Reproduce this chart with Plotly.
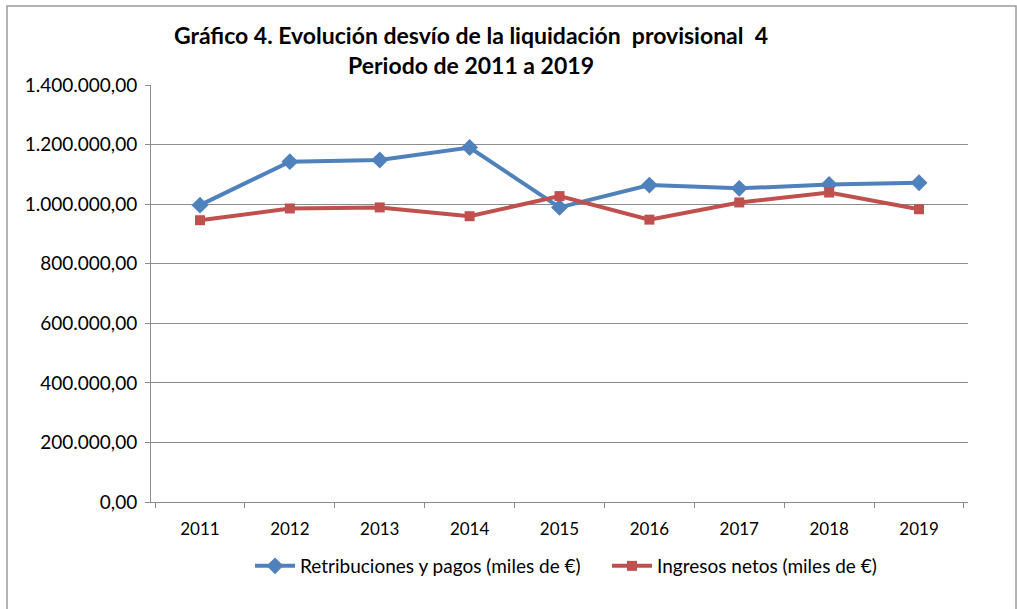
import plotly.graph_objects as go

years = ["2011", "2012", "2013", "2014", "2015", "2016", "2017", "2018", "2019"]
retribuciones = [996600, 1142600, 1148000, 1190000, 989000, 1064000, 1053000, 1066000, 1072000]
ingresos = [946000, 985500, 989000, 959500, 1027000, 948000, 1005700, 1039000, 983000]
y_ticks = [0, 200000, 400000, 600000, 800000, 1000000, 1200000, 1400000]

W, H = 1017, 609
L, R, T, B = 151, 49, 85, 107
pw, ph = W - L - R, H - T - B

fig = go.Figure()
fig.add_trace(go.Scatter(
    x=years, y=retribuciones, mode="lines+markers",
    name="Retribuciones y pagos (miles de €)",
    line=dict(color="#4F81BD", width=4),
    marker=dict(symbol="diamond", size=13, color="#4F81BD"),
))
fig.add_trace(go.Scatter(
    x=years, y=ingresos, mode="lines+markers",
    name="Ingresos netos (miles de €)",
    line=dict(color="#C0504D", width=4),
    marker=dict(symbol="square", size=10, color="#C0504D"),
))

font_main = "Lato, 'Open Sans', sans-serif"

fig.update_layout(
    width=W, height=H,
    margin=dict(l=L, r=R, t=T, b=B, autoexpand=False),
    paper_bgcolor="white", plot_bgcolor="white",
    separators=",.",
    font=dict(family=font_main, size=19, color="black"),
    title=dict(
        text="<b>Gráfico 4. Evolución desvío de la liquidación  provisional  4<br>Periodo de 2011 a 2019</b>",
        x=471 / W, xanchor="center", y=1 - 44 / H, yanchor="middle",
        font=dict(family=font_main, size=23),
    ),
    xaxis=dict(
        type="category", showgrid=False, showline=True, linecolor="#8c8c8c", linewidth=1,
        ticks="outside", tickson="boundaries", ticklen=5, tickcolor="#8c8c8c",
        tickfont=dict(size=17), zeroline=False, automargin=False,
        ticklabelstandoff=12,
    ),
    yaxis=dict(
        range=[0, 1400000], tickvals=y_ticks, tickformat=",.2f",
        showgrid=True, gridcolor="#8c8c8c", gridwidth=1,
        showline=True, linecolor="#8c8c8c", linewidth=1,
        ticks="outside", ticklen=5, tickcolor="#8c8c8c",
        tickfont=dict(size=19), zeroline=False, automargin=False,
        ticklabelstandoff=4,
    ),
    legend=dict(
        orientation="h", x=(250 - L) / pw, xanchor="left",
        y=-(566 - (H - B)) / ph, yanchor="middle",
        font=dict(size=19), itemwidth=40, entrywidth=302,
    ),
    showlegend=True,
)

# outer chart border
fig.add_shape(
    type="rect", xref="paper", yref="paper",
    x0=(7 - L) / pw, x1=(1016 - L) / pw,
    y0=1 - (615 - T) / ph, y1=1 - (6 - T) / ph,
    line=dict(color="#9a9a9a", width=1.5), fillcolor="rgba(0,0,0,0)", layer="below",
)

fig.write_html("out.html", config={"displayModeBar": False},
               post_script="document.body.style.margin='0';")
